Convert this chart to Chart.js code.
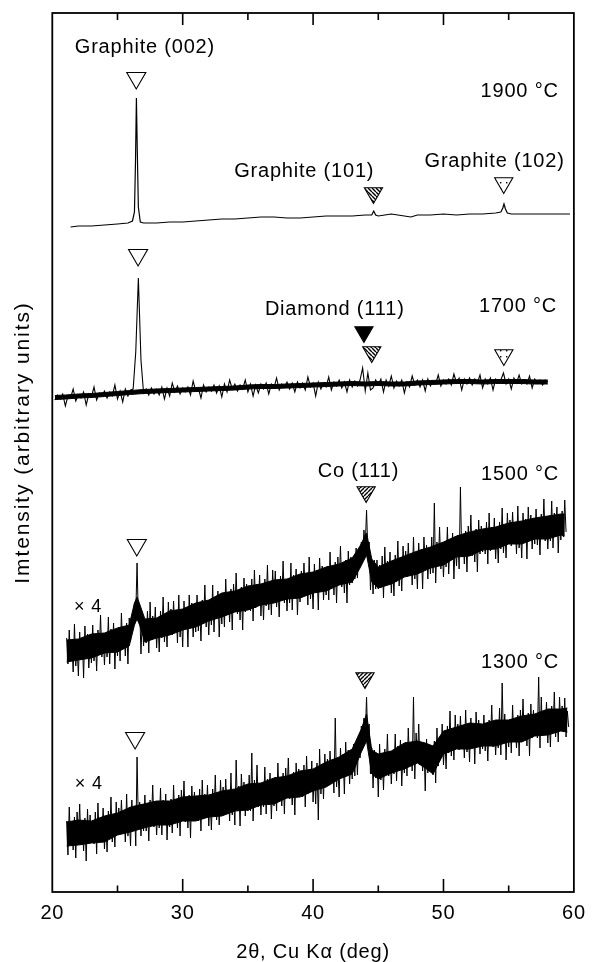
<!DOCTYPE html>
<html><head><meta charset="utf-8">
<script src="https://cdn.jsdelivr.net/npm/chart.js@4.4.1/dist/chart.umd.min.js"></script>
<style>html,body{margin:0;padding:0;background:#fff}canvas{display:block}</style>
</head><body>
<canvas id="c" width="594" height="962"></canvas>
<script>
// ---------------- data (2θ in degrees, intensity in arbitrary units) ----------------
const xTickLabels = [20, 30, 40, 50, 60];
const xMinorTicks = [25, 35, 45, 55];

// 1900 °C trace
const x1900 = [21.4, 22, 23, 24, 25, 25.8, 26.15, 26.3, 26.38, 26.45, 26.52, 26.6, 26.75,
  27, 28, 29, 30, 31, 32, 33, 34, 35, 36, 37, 38, 39, 40, 41, 42, 43, 44,
  44.5, 44.65, 44.8, 45, 45.5, 46, 46.5, 47, 47.5, 48, 49, 50, 51, 52, 53, 54,
  54.4, 54.55, 54.64, 54.75, 54.9, 55.2, 56, 57, 58, 59, 59.7];
const y1900 = [665, 666, 666, 667, 668, 669, 671, 680, 730, 794, 740, 685, 670,
  669, 669, 670, 670, 671, 672, 673, 673, 674, 675, 675, 674, 674, 675, 676, 676, 676, 677,
  677, 681, 677, 676, 677, 678, 677, 676, 675, 677, 677, 678, 677, 678, 678, 679,
  680, 684, 688, 683, 679, 678, 678, 678, 678, 678, 678];

// 1700 °C trace: solid core of the noisy line, and the noise itself (every 0.2° from 20.2°)
const band1700X = [20.2, 21, 22, 23, 24, 25, 26, 27, 28, 29, 30, 31, 32, 33, 34, 35, 36, 37, 38, 39,
  40, 41, 42, 43, 44, 45, 46, 47, 48, 49, 50, 51, 52, 53, 54, 55, 56, 57, 58];
const band1700Lo = [492.5, 493, 494, 494.5, 495.5, 496.5, 497.5, 498.5, 499, 499.5,
  500, 500.5, 501, 501.5, 502, 503, 503.5, 503.5, 504, 504.5,
  505, 505.5, 506, 506.5, 506, 506.5, 506, 506, 507, 507.5,
  508, 508.5, 508.5, 508, 508.5, 508.5, 508.5, 508, 508];
const band1700Hi = [496.5, 497, 498, 498.5, 499.5, 500.5, 501.5, 502.5, 503, 503.5,
  504, 504.5, 505, 505.5, 506, 507, 507.5, 507.5, 508, 508.5,
  509, 509.5, 510, 510.5, 510, 510.5, 510, 510, 511, 511.5,
  512, 512.5, 512.5, 512, 512.5, 512.5, 512.5, 512, 512];
const start1700 = 20.2, step1700 = 0.2;
const y1700 = [
  492, 497, 493, 498, 486, 496, 494, 503, 491, 497,
  494, 500, 487, 498, 495, 505, 492, 499, 496, 501,
  494, 500, 496, 507, 493, 501, 490, 503, 496, 502,
  503, 540, 614, 532, 499, 503, 497, 504, 498, 503,
  497, 505, 493, 504, 496, 509, 500, 506, 498, 504,
  500, 505, 497, 511, 501, 504, 494, 507, 500, 505,
  501, 507, 499, 506, 495, 508, 500, 512, 503, 508,
  501, 507, 503, 512, 500, 508, 496, 507, 499, 508,
  503, 509, 498, 508, 504, 514, 502, 508, 505, 510,
  503, 509, 500, 510, 504, 509, 502, 515, 505, 509,
  496, 510, 503, 509, 505, 515, 502, 510, 506, 512,
  504, 510, 500, 512, 505, 511, 506, 512, 524, 501,
  519, 502, 504, 512, 507, 513, 500, 512, 506, 516,
  504, 511, 506, 512, 499, 510, 505, 516, 507, 512,
  505, 512, 501, 513, 506, 511, 508, 517, 506, 512,
  508, 513, 507, 518, 509, 514, 502, 513, 508, 514,
  507, 513, 509, 517, 504, 513, 508, 514, 502, 513,
  509, 512, 519, 508, 513, 503, 514, 509, 517, 508,
  512, 508, 516, 504, 513, 509, 512, 507, 512, 510];

// 1500 °C (×4): solid core band and noise spikes (every 0.1° from 21.1°)
const band1500X = [21.1, 22, 23, 24, 25, 25.9, 26.3, 26.5, 26.7, 27.1, 28, 29, 30, 31, 32, 33, 34, 35,
  36, 37, 38, 39, 40, 41, 42, 43, 43.6, 44.1, 44.5, 45, 46, 47, 48, 49, 50, 51, 52, 53, 54,
  55, 56, 57, 58, 59, 59.3];
const band1500Lo = [230, 232, 234, 239, 240, 246, 267, 273, 267, 250, 254, 257, 262, 265, 271, 275, 280, 282,
  287, 289, 293, 294, 299, 301, 307, 310, 324, 337, 310, 304, 308, 315, 318, 324, 327, 335, 336, 342, 343,
  348, 348, 353, 353, 357, 356];
const band1500Hi = [252, 253, 258, 259, 264, 267, 289, 295, 288, 273, 274, 281, 283, 289, 292, 299, 301, 306,
  308, 312, 313, 318, 320, 325, 328, 334, 346, 359, 333, 325, 331, 336, 341, 345, 350, 356, 360, 363, 365,
  369, 371, 374, 376, 378, 378];
const startLow = 21.1, stepLow = 0.1;
const y1500 = [
  254, 228, 262, 232, 250, 220, 268, 226, 246, 216, 260, 232, 254, 214, 266, 236, 258, 224, 251, 229,
  267, 231, 255, 221, 262, 238, 277, 235, 258, 227, 257, 235, 275, 228, 263, 242, 269, 223, 260, 236,
  265, 231, 279, 243, 262, 236, 269, 228, 274, 251, 274, 264, 289, 277, 329, 273, 286, 238, 274, 246,
  272, 249, 281, 239, 290, 252, 276, 255, 285, 244, 272, 240, 281, 254, 295, 250, 276, 245, 290, 259,
  283, 257, 291, 261, 279, 249, 297, 255, 275, 245, 291, 263, 285, 245, 297, 267, 289, 255, 282, 260,
  297, 261, 285, 251, 292, 268, 307, 265, 288, 257, 289, 267, 307, 260, 295, 274, 301, 255, 292, 268,
  299, 265, 313, 277, 296, 270, 303, 262, 308, 280, 319, 278, 299, 272, 305, 262, 314, 280, 308, 282,
  304, 281, 313, 271, 322, 284, 308, 287, 317, 276, 304, 272, 313, 286, 327, 282, 308, 277, 322, 291,
  321, 285, 309, 275, 316, 292, 331, 289, 312, 281, 311, 289, 329, 282, 317, 296, 323, 277, 314, 290,
  321, 295, 329, 299, 317, 287, 335, 293, 313, 283, 328, 300, 322, 282, 334, 304, 326, 292, 319, 297,
  326, 292, 340, 304, 323, 297, 330, 289, 335, 307, 346, 305, 326, 299, 332, 289, 341, 307, 335, 309,
  336, 313, 344, 314, 339, 327, 350, 336, 362, 346, 382, 340, 350, 302, 326, 298, 332, 303, 332, 303,
  327, 304, 336, 294, 345, 307, 331, 310, 340, 299, 328, 296, 337, 310, 351, 306, 332, 301, 346, 315,
  341, 315, 349, 319, 337, 307, 355, 313, 333, 303, 349, 321, 343, 303, 355, 325, 347, 313, 340, 318,
  355, 319, 389, 309, 350, 326, 365, 323, 346, 315, 347, 325, 365, 318, 353, 332, 359, 313, 350, 326,
  357, 323, 405, 335, 354, 328, 361, 320, 366, 338, 377, 336, 357, 330, 363, 320, 372, 338, 366, 340,
  361, 338, 370, 328, 379, 341, 365, 344, 374, 333, 361, 329, 370, 343, 384, 339, 365, 334, 379, 348,
  372, 346, 380, 350, 368, 338, 386, 344, 364, 334, 379, 351, 373, 333, 385, 355, 377, 343, 370, 348,
  383, 347, 371, 337, 378, 354, 393, 351, 374, 343, 373, 351, 391, 344, 379, 358, 385, 339, 376, 352,
  381, 355, 392, 360];

// 1300 °C (×4): solid core band and noise spikes (every 0.1° from 21.1°)
const band1300X = [21.1, 22, 23, 24, 25, 26, 27, 28, 29, 30, 31, 32, 33, 34, 35, 36, 37, 38, 39, 40,
  41, 42, 43, 43.7, 44.1, 44.5, 45, 46, 47, 48, 48.6, 49.2, 50, 51, 52, 53, 54, 55, 56, 57, 58, 59, 59.5];
const band1300Lo = [46, 47, 49, 50, 57, 60, 64, 67, 67, 71, 71, 75, 76, 81, 82, 87, 88, 94, 95, 101,
  105, 113, 118, 140, 151, 118, 113, 119, 123, 129, 124, 118, 138, 143, 143, 146, 146, 150, 150, 156,
  157, 161, 160];
const band1300Hi = [70, 72, 71, 76, 79, 85, 88, 91, 91, 95, 96, 97, 101, 103, 108, 109, 114, 116, 121, 123,
  130, 135, 143, 163, 178, 142, 138, 141, 149, 151, 149, 146, 161, 165, 169, 168, 172, 172, 176, 178,
  183, 183, 184];
const y1300 = [
  71, 37, 85, 49, 68, 42, 75, 34, 80, 52, 88, 47, 68, 41, 74, 31, 83, 49, 77, 51,
  71, 48, 80, 38, 89, 51, 75, 54, 84, 43, 72, 40, 81, 54, 95, 50, 76, 45, 90, 59,
  84, 58, 92, 62, 80, 50, 98, 56, 76, 46, 92, 64, 86, 46, 135, 68, 90, 56, 83, 61,
  97, 61, 85, 51, 92, 68, 107, 65, 88, 57, 86, 64, 104, 57, 92, 71, 98, 52, 89, 65,
  93, 59, 107, 71, 90, 64, 97, 56, 102, 74, 111, 70, 91, 64, 97, 54, 106, 72, 100, 74,
  94, 71, 103, 61, 112, 74, 98, 77, 107, 66, 94, 62, 103, 76, 117, 72, 98, 67, 112, 81,
  105, 79, 113, 83, 101, 71, 119, 77, 97, 67, 132, 84, 106, 66, 118, 88, 110, 76, 103, 81,
  117, 81, 139, 71, 112, 88, 127, 85, 108, 77, 107, 85, 125, 78, 113, 92, 119, 73, 110, 86,
  115, 81, 129, 93, 112, 86, 119, 78, 124, 96, 134, 93, 114, 87, 120, 77, 129, 95, 123, 97,
  118, 95, 127, 85, 136, 98, 122, 101, 131, 90, 120, 88, 129, 72, 143, 98, 124, 93, 138, 107,
  133, 107, 141, 111, 129, 99, 174, 105, 125, 95, 144, 116, 138, 98, 150, 120, 142, 108, 135, 113,
  148, 116, 148, 117, 157, 134, 166, 148, 174, 156, 195, 148, 168, 118, 144, 104, 142, 114, 139, 95,
  148, 112, 136, 102, 143, 119, 158, 116, 139, 108, 140, 118, 158, 111, 146, 125, 152, 106, 143, 119,
  150, 116, 164, 128, 147, 121, 195, 113, 159, 131, 168, 127, 148, 121, 148, 101, 153, 119, 147, 121,
  140, 117, 151, 109, 164, 126, 155, 134, 168, 127, 155, 123, 166, 139, 181, 136, 163, 132, 177, 146,
  168, 142, 176, 146, 164, 134, 182, 140, 160, 130, 174, 146, 168, 128, 180, 150, 172, 138, 165, 143,
  177, 141, 165, 131, 172, 148, 187, 145, 168, 137, 166, 144, 184, 137, 209, 151, 178, 132, 169, 145,
  173, 139, 187, 151, 170, 144, 177, 136, 182, 154, 193, 152, 173, 146, 179, 136, 188, 154, 182, 156,
  177, 154, 215, 144, 195, 157, 181, 160, 190, 149, 177, 145, 186, 159, 200, 155, 181, 150, 195, 164,
  186, 160, 194, 155, 181, 165];

// peak markers (position of each ▽)
const graphite002X = [26.44, 26.58, 26.48, 26.35];
const graphite002Y = [814, 637, 347, 154];
const diamond111X = [43.9];
const diamond111Y = [560];
const graphite101X = [44.63, 44.5];
const graphite101Y = [699, 540];
const co111X = [44.07, 43.98];
const co111Y = [400, 214];
const graphite102X = [54.62, 54.63];
const graphite102Y = [709, 537];

// text labels placed in data coordinates
const noteText = ['Graphite (002)', '1900 °C', 'Graphite (101)', 'Graphite (102)',
  'Diamond (111)', '1700 °C', 'Co (111)', '1500 °C', '× 4', '1300 °C', '× 4'];
const noteX = [27.1, 55.84, 39.32, 53.92, 41.66, 55.72, 43.48, 55.87, 22.74, 55.87, 22.8];
const noteY = [839, 795, 715, 725, 577, 580, 415, 412, 280, 224, 103];
const yTitle = 'Imtensity (arbitrary units)';

// ---------------- helpers ----------------
const FONT = "'Liberation Sans', Arial, Helvetica, sans-serif";
function pairs(xs, ys) { return ys.map((y, i) => ({x: xs[i], y})); }
function sampled(start, step, ys) { return ys.map((y, i) => ({x: +(start + i * step).toFixed(2), y})); }

function makePattern(kind) {
  const s = kind === 'dots' ? 6 : 4;
  const c = document.createElement('canvas');
  c.width = s; c.height = s;
  const g = c.getContext('2d');
  g.fillStyle = '#fff'; g.fillRect(0, 0, s, s);
  g.strokeStyle = '#000'; g.fillStyle = '#000'; g.lineWidth = 1.4;
  if (kind === 'dots') {
    g.fillRect(2, 2, 1.4, 1.4);
  } else {
    g.beginPath();
    for (let k = -s; k <= s; k += s) {
      if (kind === 'back') { g.moveTo(k, 0); g.lineTo(k + s, s); }
      else { g.moveTo(k + s, 0); g.lineTo(k, s); }
    }
    g.stroke();
  }
  return g.createPattern(c, 'repeat');
}

function trace(data, width) {
  return {data, showLine: true, borderColor: '#000', borderWidth: width,
    pointRadius: 0, tension: 0, fill: false, order: 2};
}
function bandEdge(data, fillPrev) {
  return {data, showLine: true, borderColor: '#000', borderWidth: 1, pointRadius: 0,
    tension: 0, fill: fillPrev ? '-1' : false, backgroundColor: '#000', order: 3};
}
function marker(data, fill, r) {
  return {data, showLine: false, pointStyle: 'triangle', rotation: 180,
    pointRadius: r, backgroundColor: fill, borderColor: '#000', borderWidth: 1.1, order: 1};
}

const decor = {
  id: 'decor',
  beforeDraw(chart) { chart.ctx.letterSpacing = '0.8px'; },
  afterDraw(chart) {
    const {ctx, chartArea: a, scales: {x, y}} = chart;
    ctx.save();
    ctx.strokeStyle = '#000';
    ctx.lineWidth = 1.8;
    ctx.strokeRect(a.left, a.top, a.right - a.left, a.bottom - a.top);
    ctx.lineWidth = 1.6;
    ctx.beginPath();
    const inner = xTickLabels.filter(v => v > 20 && v < 60);
    inner.forEach(v => {
      const px = x.getPixelForValue(v);
      ctx.moveTo(px, a.bottom); ctx.lineTo(px, a.bottom - 13);
      ctx.moveTo(px, a.top); ctx.lineTo(px, a.top + 12);
    });
    xMinorTicks.forEach(v => {
      const px = x.getPixelForValue(v);
      ctx.moveTo(px, a.bottom); ctx.lineTo(px, a.bottom - 6.5);
      ctx.moveTo(px, a.top); ctx.lineTo(px, a.top + 7);
    });
    ctx.stroke();
    ctx.fillStyle = '#000';
    ctx.textAlign = 'center';
    ctx.textBaseline = 'alphabetic';
    noteText.forEach((t, i) => {
      ctx.font = (t === '× 4' ? '18px ' : '20px ') + FONT;
      ctx.fillText(t, x.getPixelForValue(noteX[i]), y.getPixelForValue(noteY[i]));
    });
    // y-axis title
    ctx.save();
    ctx.translate(23, (a.top + a.bottom) / 2 - 10);
    ctx.rotate(-Math.PI / 2);
    ctx.letterSpacing = '1.9px';
    ctx.font = '21px ' + FONT;
    ctx.textBaseline = 'middle';
    ctx.fillText(yTitle, 0, 0);
    ctx.restore();
    ctx.restore();
    ctx.letterSpacing = '0px';
  }
};

new Chart(document.getElementById('c'), {
  type: 'scatter',
  data: {
    datasets: [
      bandEdge(pairs(band1700X, band1700Lo), false),
      bandEdge(pairs(band1700X, band1700Hi), true),
      bandEdge(pairs(band1500X, band1500Lo), false),
      bandEdge(pairs(band1500X, band1500Hi), true),
      bandEdge(pairs(band1300X, band1300Lo), false),
      bandEdge(pairs(band1300X, band1300Hi), true),
      trace(pairs(x1900, y1900), 1.2),
      trace(sampled(start1700, step1700, y1700), 1.1),
      trace(sampled(startLow, stepLow, y1500), 1.0),
      trace(sampled(startLow, stepLow, y1300), 1.0),
      marker(pairs(graphite002X, graphite002Y), '#fff', 11),
      marker(pairs(diamond111X, diamond111Y), '#000', 10.5),
      marker(pairs(graphite101X, graphite101Y), makePattern('back'), 10.5),
      marker(pairs(co111X, co111Y), makePattern('fwd'), 10.5),
      marker(pairs(graphite102X, graphite102Y), makePattern('dots'), 10.5)
    ]
  },
  options: {
    responsive: false,
    animation: false,
    devicePixelRatio: 1,
    events: [],
    layout: {padding: {top: 13, right: 12.3, bottom: 0, left: 0}},
    plugins: {legend: {display: false}, tooltip: {enabled: false}},
    scales: {
      x: {
        type: 'linear', position: 'bottom', min: 20, max: 60,
        afterBuildTicks: s => { s.ticks = xTickLabels.map(v => ({value: v})); },
        ticks: {color: '#000', padding: 9, maxRotation: 0, autoSkip: false,
          font: {family: FONT, size: 20, lineHeight: 1.2}},
        grid: {display: false, drawTicks: false},
        border: {display: false},
        title: {display: true, text: '2θ, Cu Kα (deg)', color: '#000',
          font: {family: FONT, size: 20, lineHeight: 1}, padding: {top: 0, bottom: 0}},
        afterFit: s => { s.height = 70; }
      },
      y: {
        type: 'linear', position: 'left', min: 0, max: 879,
        ticks: {display: false},
        grid: {display: false, drawTicks: false},
        border: {display: false},
        title: {display: false},
        afterFit: s => { s.width = 52.3; }
      }
    }
  },
  plugins: [decor]
});
</script>
</body></html>
